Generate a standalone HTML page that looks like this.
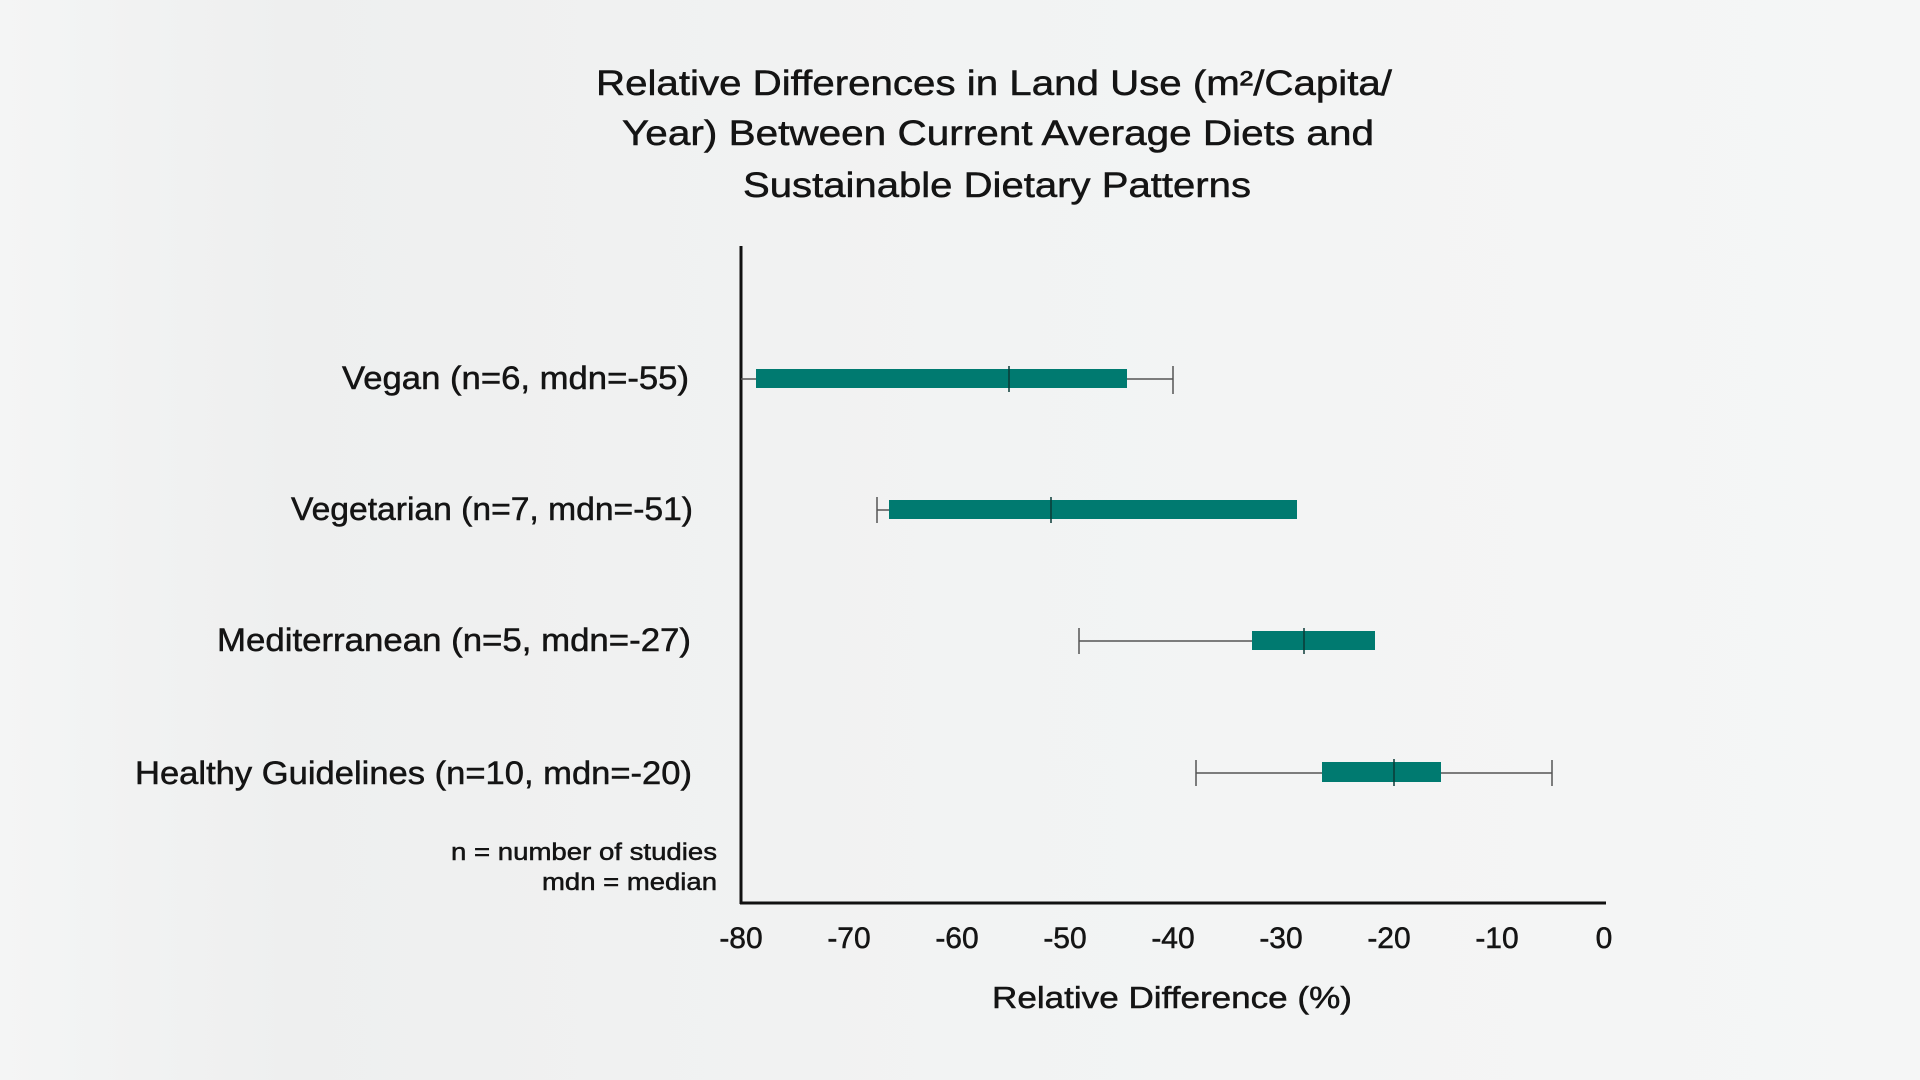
<!DOCTYPE html>
<html><head><meta charset="utf-8"><style>
html,body{margin:0;padding:0;width:1920px;height:1080px;overflow:hidden;background:linear-gradient(90deg,#f4f5f5 0%,#eeefef 15%,#f2f3f3 50%,#f5f6f6 100%);}
svg{position:absolute;left:0;top:0}
text{font-family:"Liberation Sans",sans-serif;fill:#141414;stroke:#141414;stroke-width:0.5}
</style></head><body>
<svg width="1920" height="1080" viewBox="0 0 1920 1080">
<g font-size="35" text-anchor="middle">
<text x="994" y="95" textLength="796" lengthAdjust="spacingAndGlyphs">Relative Differences in Land Use (m²/Capita/</text>
<text x="998" y="145" textLength="752" lengthAdjust="spacingAndGlyphs">Year) Between Current Average Diets and</text>
<text x="997" y="197" textLength="508" lengthAdjust="spacingAndGlyphs">Sustainable Dietary Patterns</text>
</g>
<g font-size="32" text-anchor="end">
<text x="689" y="389" textLength="347" lengthAdjust="spacingAndGlyphs">Vegan (n=6, mdn=-55)</text>
<text x="693" y="520" textLength="402" lengthAdjust="spacingAndGlyphs">Vegetarian (n=7, mdn=-51)</text>
<text x="691" y="651" textLength="474" lengthAdjust="spacingAndGlyphs">Mediterranean (n=5, mdn=-27)</text>
<text x="692" y="784" textLength="557" lengthAdjust="spacingAndGlyphs">Healthy Guidelines (n=10, mdn=-20)</text>
</g>
<g font-size="24" text-anchor="end" style="stroke-width:0.3">
<text x="717" y="860" textLength="266" lengthAdjust="spacingAndGlyphs">n = number of studies</text>
<text x="717" y="890" textLength="175" lengthAdjust="spacingAndGlyphs">mdn = median</text>
</g>
<line x1="741" y1="246" x2="741" y2="904" stroke="#111" stroke-width="3"/>
<line x1="740" y1="903" x2="1606" y2="903" stroke="#111" stroke-width="3"/>
<g font-size="30" text-anchor="middle">
<text x="741" y="948">-80</text><text x="849" y="948">-70</text><text x="957" y="948">-60</text>
<text x="1065" y="948">-50</text><text x="1173" y="948">-40</text><text x="1281" y="948">-30</text>
<text x="1389" y="948">-20</text><text x="1497" y="948">-10</text><text x="1604" y="948">0</text>
</g>
<text x="1172" y="1008" font-size="31" text-anchor="middle" textLength="360" lengthAdjust="spacingAndGlyphs">Relative Difference (%)</text>
<g stroke="#555" stroke-width="1.5" fill="none">
<line x1="741" y1="379" x2="1173" y2="379"/><line x1="1173" y1="366" x2="1173" y2="394"/>
<line x1="877" y1="510" x2="889" y2="510"/><line x1="877" y1="497" x2="877" y2="523"/>
<line x1="1079" y1="641" x2="1252" y2="641"/><line x1="1079" y1="628" x2="1079" y2="654"/>
<line x1="1196" y1="773" x2="1552" y2="773"/><line x1="1196" y1="760" x2="1196" y2="786"/><line x1="1552" y1="760" x2="1552" y2="786"/>
</g>
<g fill="#007a70">
<rect x="756" y="369" width="371" height="19"/>
<rect x="889" y="500" width="408" height="19"/>
<rect x="1252" y="631" width="123" height="19"/>
<rect x="1322" y="762" width="119" height="20"/>
</g>
<g stroke="#0b3b36" stroke-width="1.5">
<line x1="1009" y1="366" x2="1009" y2="392"/>
<line x1="1051" y1="497" x2="1051" y2="523"/>
<line x1="1304" y1="628" x2="1304" y2="654"/>
<line x1="1394" y1="759" x2="1394" y2="786"/>
</g>
</svg>
</body></html>
